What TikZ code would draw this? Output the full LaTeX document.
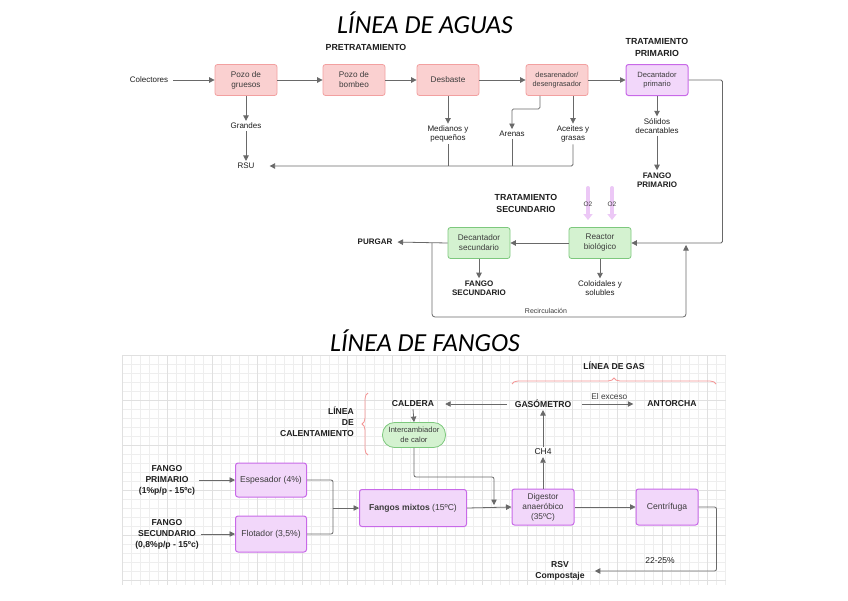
\documentclass[tikz,border=0pt]{standalone}
\usepackage{fontspec}
\setmainfont{Liberation Sans}
\newfontfamily\titlefont{Carlito}
\usetikzlibrary{arrows.meta,decorations.pathreplacing,calc}
\definecolor{pinkF}{RGB}{250,208,208}
\definecolor{pinkD}{RGB}{242,160,160}
\definecolor{purF}{RGB}{242,215,250}
\definecolor{purD}{RGB}{200,105,232}
\definecolor{grnF}{RGB}{212,242,208}
\definecolor{grnD}{RGB}{125,200,125}
\definecolor{lineC}{RGB}{105,105,105}
\definecolor{txtC}{RGB}{30,30,30}
\definecolor{boxT}{RGB}{60,60,60}
\definecolor{braceC}{RGB}{244,150,150}
\definecolor{o2C}{RGB}{236,200,246}
\definecolor{gMin}{RGB}{238,238,238}
\definecolor{gMaj}{RGB}{224,224,224}
\begin{document}
\begin{tikzpicture}[x=1pt,y=-1pt,
  arr/.style={draw=lineC, line width=0.8pt, -{Triangle[length=5.5pt,width=5.5pt]}},
  ln/.style={draw=lineC, line width=0.8pt},
  lbl/.style={font=\fontsize{8}{9}\selectfont, text=txtC, align=center, inner sep=2pt},
  blbl/.style={font=\fontsize{8}{9.5}\selectfont\bfseries, text=txtC, align=center, inner sep=2pt},
  head/.style={font=\fontsize{8.8}{12}\selectfont\bfseries, text=txtC, align=center, inner sep=2pt},
  lbltwo/.style={font=\fontsize{8.5}{11}\selectfont, text=txtC, align=center, inner sep=2pt},
  blbltwo/.style={font=\fontsize{8.6}{11}\selectfont\bfseries, text=txtC, align=center, inner sep=2pt},
  box/.style={rectangle, rounded corners=2.5pt, line width=0.8pt, minimum width=62pt, minimum height=31pt, align=center, inner sep=1pt, font=\fontsize{8.2}{10}\selectfont, text=boxT},
  pinkbox/.style={box, draw=pinkD, fill=pinkF},
  purbox/.style={box, draw=purD, fill=purF, line width=1pt},
  grnbox/.style={box, draw=grnD, fill=grnF},
  bracestyle/.style={draw=braceC, line width=0.8pt, decorate, decoration={brace, amplitude=6pt}},
  o2arrow/.style={draw=o2C, line width=4pt, line cap=round, -{Triangle[length=6pt,width=9pt]}},
  titlestyle/.style={font=\titlefont\itshape\fontsize{26}{30}\selectfont, text=black, inner sep=0pt, anchor=base}
]
\useasboundingbox (0,0) rectangle (848,600);
\fill[white] (0,0) rectangle (848,600);

% ---------- grid (bottom part) ----------
\foreach \x in {122,131,...,726} \draw[gMin, line width=0.5pt] (\x,355) -- (\x,585);
\foreach \y in {355,364,...,585} \draw[gMin, line width=0.5pt] (122,\y) -- (726,\y);
\foreach \x in {122,167,...,726} \draw[gMaj, line width=0.6pt] (\x,355) -- (\x,585);
\foreach \y in {355,400,...,585} \draw[gMaj, line width=0.6pt] (122,\y) -- (726,\y);

% ---------- titles ----------
\node[titlestyle] (t1) at (425,33) {LÍNEA DE AGUAS};
\node[titlestyle] (t2) at (425,351) {LÍNEA DE FANGOS};

% ---------- LINEA DE AGUAS ----------
\node[head] (pret) at (366,47) {PRETRATAMIENTO};
\node[head] (tp) at (657,47) {TRATAMIENTO\\PRIMARIO};
\node[lbl] (col) at (149,80) {Colectores};
\node[pinkbox] (pg) at (246,80) {Pozo de\\gruesos};
\node[pinkbox] (pb) at (354,80) {Pozo de\\bombeo};
\node[pinkbox] (desb) at (448,80) {Desbaste};
\node[pinkbox, font=\fontsize{7.3}{9}\selectfont] (desar) at (557,80) {desarenador/\\desengrasador};
\node[purbox, font=\fontsize{7.6}{9.5}\selectfont] (decp) at (657,80) {Decantador\\primario};

\node[lbl] (grandes) at (246,126) {Grandes};
\node[lbl] (rsu) at (246,166) {RSU};
\node[lbl] (med) at (448,134) {Medianos y\\pequeños};
\node[lbl] (aren) at (512,134) {Arenas};
\node[lbl] (acei) at (573,134) {Aceites y\\grasas};
\node[lbl] (sol) at (657,126) {Sólidos\\decantables};
\node[blbl] (fp1) at (657,180) {FANGO\\PRIMARIO};

\draw[arr, shorten <=3pt] (col.east) -- (pg.west);
\draw[arr] (pg.east) -- (pb.west);
\draw[arr] (pb.east) -- (desb.west);
\draw[arr] (desb.east) -- (desar.west);
\draw[arr] (desar.east) -- (decp.west);
\draw[arr] (pg.south) -- (grandes.north);
\draw[arr] (grandes.south) -- (rsu.north);
\draw[arr] (desb.south) -- (med.north);
\draw[arr, rounded corners=1.5pt] ([xshift=-17pt]desar.south) -- ++(0,13) -| (aren.north);
\draw[arr] (acei.north |- desar.south) -- (acei.north);
\draw[ln] (med.south) -- (med.south |- rsu.east);
\draw[ln] (aren.south) -- (aren.south |- rsu.east);
\draw[arr, rounded corners=1.5pt, shorten >=13pt] (acei.south) |- (rsu.east);
\draw[arr] (decp.south) -- (sol.north);
\draw[arr] (sol.south) -- (fp1.north);

% secondary treatment
\node[head] (ts) at (526,203) {TRATAMIENTO\\SECUNDARIO};
\node[grnbox] (reac) at (600,243) {Reactor\\biológico};
\node[grnbox] (decs) at (479,243) {Decantador\\secundario};
\node[blbl] (purg) at (375,242) {PURGAR};
\node[blbl] (fs1) at (479,288) {FANGO\\SECUNDARIO};
\node[lbl] (colo) at (600,288) {Coloidales y\\solubles};

\coordinate (o2at) at (588,188);
\coordinate (o2ab) at (588,220);
\coordinate (o2bt) at (612,188);
\coordinate (o2bb) at (612,220);
\draw[o2arrow] (o2at) -- (o2ab);
\draw[o2arrow] (o2bt) -- (o2bb);
\node[font=\fontsize{6.5}{7}\selectfont, text=boxT, inner sep=0pt] (o2a) at (588,204) {O2};
\node[font=\fontsize{6.5}{7}\selectfont, text=boxT, inner sep=0pt] (o2b) at (612,204) {O2};

\draw[arr, rounded corners=1.5pt] (decp.east) -- ++(34,0) |- (reac.east);
\draw[arr] (reac.west) -- (decs.east);
\draw[arr, shorten >=3pt] (decs.west) -- (purg.east);
\draw[arr] (decs.south) -- (fs1.north);
\draw[arr] (reac.south) -- (colo.north);

\coordinate (rcs) at (432,243);
\coordinate (rcb) at (560,317);
\coordinate (rce) at (686,245);
\draw[arr, rounded corners=3pt] (rcs) |- (rcb) -| (rce);
\node[font=\fontsize{7}{8}\selectfont, text=boxT, inner sep=1pt] (recl) at (546,311) {Recirculación};

% ---------- LINEA DE FANGOS ----------
\node[blbltwo] (lgas) at (614,366) {LÍNEA DE GAS};
\coordinate (bgl) at (512,384);
\coordinate (bgr) at (716,384);
\draw[bracestyle] (bgl) -- (bgr);

\node[blbltwo] (gaso) at (543,404) {GASÓMETRO};
\node[blbltwo] (anto) at (672,404) {ANTORCHA};
\node[blbltwo] (cald) at (413,404) {CALDERA};
\node[blbltwo, align=right, anchor=east] (lcal) at (356,422) {LÍNEA\\DE\\CALENTAMIENTO};
\coordinate (bcb) at (368,455);
\coordinate (bct) at (368,393);
\draw[bracestyle] (bcb) -- (bct);

\node[rectangle, rounded corners=12pt, draw=grnD, fill=grnF, line width=0.8pt, minimum width=63pt, minimum height=25pt, inner sep=1pt, align=center, font=\fontsize{7.6}{9.5}\selectfont, text=boxT] (inter) at (414,435) {Intercambiador\\de calor};
\node[lbltwo] (ch4) at (543,452) {CH4};

\node[blbltwo] (fpri) at (167,480) {FANGO\\PRIMARIO\\(1\%p/p - 15ºc)};
\node[blbltwo] (fsec) at (167,534) {FANGO\\SECUNDARIO\\(0,8\%p/p - 15ºc)};
\node[purbox, minimum width=71pt, minimum height=34pt, font=\fontsize{8.6}{10.5}\selectfont] (esp) at (271,480) {Espesador (4\%)};
\node[purbox, minimum width=71pt, minimum height=36pt, font=\fontsize{8.6}{10.5}\selectfont] (flot) at (271,534) {Flotador (3,5\%)};
\node[purbox, minimum width=107pt, minimum height=37pt, font=\fontsize{8.6}{10.5}\selectfont] (mix) at (413,508) {\textbf{Fangos mixtos} (15ºC)};
\node[purbox, minimum width=62pt, minimum height=36pt, font=\fontsize{8.3}{10}\selectfont] (dig) at (543,507) {Digestor\\anaeróbico\\(35ºC)};
\node[purbox, minimum width=62pt, minimum height=36pt, font=\fontsize{8.6}{10.5}\selectfont] (cent) at (667,507) {Centrífuga};
\node[blbltwo] (rsv) at (560,571) {RSV\\Compostaje};
\node[lbltwo] (pct) at (660,561) {22-25\%};

\draw[arr, shorten <=9pt, shorten >=12pt] (gaso.east) -- (anto.west) node[midway, above=1pt, font=\fontsize{8.3}{9}\selectfont, text=boxT] (exc) {El exceso};
\draw[arr, shorten <=6pt, shorten >=9pt] (gaso.west) -- (cald.east);
\draw[arr] (cald.south) -- (inter.north);
\draw[arr] (dig.north) -- (ch4.south);
\draw[arr] (ch4.north) -- (gaso.south);

\coordinate (djt) at (494,477);
\coordinate (djb) at (494,505);
\draw[arr, rounded corners=2pt] (inter.south) |- (djt) -- (djb);

\draw[arr, shorten <=2pt] (fpri.east |- esp.west) -- (esp.west);
\draw[arr] (fsec.east |- flot.west) -- (flot.west);
\coordinate (mj) at (333,508);
\draw[ln, rounded corners=2pt] (esp.east) -| (mj);
\draw[ln, rounded corners=2pt] (flot.east) -| (mj);
\draw[arr] (mj) -- (mix.west);
\draw[arr] (mix.east) -- (dig.west);
\draw[arr] (dig.east) -- (cent.west);
\draw[arr, rounded corners=2pt, shorten >=8pt] (cent.east) -- ++(18,0) |- (rsv.east);
\end{tikzpicture}
\end{document}
